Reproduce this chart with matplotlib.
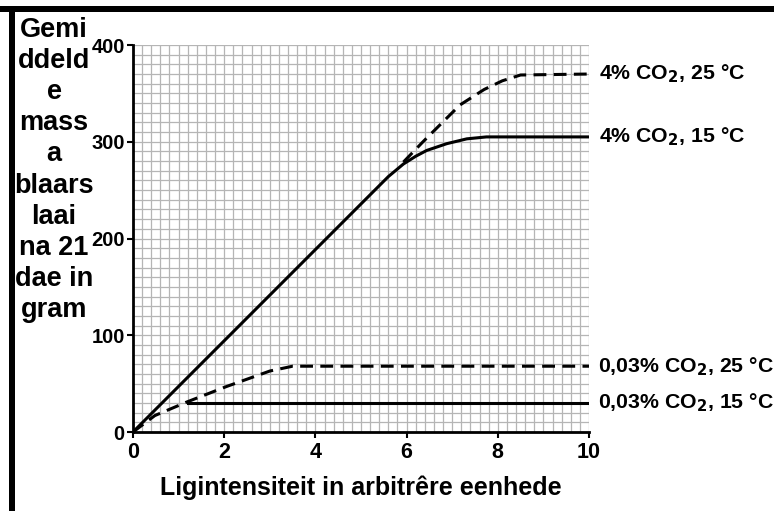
"""Leaf mass vs light intensity at two CO2 levels and two temperatures."""
import matplotlib
matplotlib.use("Agg")
import matplotlib.pyplot as plt
from matplotlib.patches import Rectangle
from matplotlib.ticker import MultipleLocator

plt.rcParams["font.family"] = ["Liberation Sans", "DejaVu Sans"]
plt.rcParams["font.weight"] = "bold"

# 4% CO2, 15 C (solid)
x_hi15 = [0, 5.6, 5.93, 6.2, 6.44, 6.88, 7.32, 7.75, 10]
y_hi15 = [0, 264, 277, 285, 291, 298, 303, 305, 305]
# 4% CO2, 25 C (dashed continuation of the straight part)
x_hi25 = [5.93, 6.36, 7.17, 7.7, 8.1, 8.5, 10]
y_hi25 = [279, 300, 338, 354, 363, 369, 370]
# 0,03% CO2, 25 C (dashed)
x_lo25 = [0, 0.48, 1.18, 2.05, 3.0, 3.5, 10]
y_lo25 = [0, 17, 31, 47, 63, 68, 68]
# 0,03% CO2, 15 C
x_lo15 = [0, 1.2, 10]
y_lo15 = [0, 30, 30]

labels = ["4% CO$_2$, 25 °C", "4% CO$_2$, 15 °C",
          "0,03% CO$_2$, 25 °C", "0,03% CO$_2$, 15 °C"]

W, H = 774, 511
fig = plt.figure(figsize=(W / 100, H / 100), dpi=100)
ax = fig.add_axes([133 / W, 1 - 432 / H, (589 - 133) / W, (432 - 45) / H])

dash = (0, (4.2, 2.4))
lw = 2.2
ax.plot(x_hi15, y_hi15, color="black", lw=lw)
ax.plot(x_hi25, y_hi25, color="black", lw=lw, linestyle=dash)
ax.plot(x_lo25, y_lo25, color="black", lw=lw, linestyle=dash)
ax.plot(x_lo15[1:], y_lo15[1:], color="black", lw=lw)

ax.set_xlim(0, 10)
ax.set_ylim(0, 400)
ax.xaxis.set_major_locator(MultipleLocator(2))
ax.xaxis.set_minor_locator(MultipleLocator(0.2))
ax.yaxis.set_major_locator(MultipleLocator(100))
ax.yaxis.set_minor_locator(MultipleLocator(10))
ax.grid(which="both", color="#b5b5b5", lw=0.9)
ax.set_axisbelow(True)
ax.tick_params(which="minor", length=0)
ax.tick_params(which="major", length=4, width=1.5, pad=3)
ax.tick_params(axis="x", labelsize=15.5)
ax.tick_params(axis="y", labelsize=14.5, pad=2)
for lab in ax.get_xticklabels() + ax.get_yticklabels():
    lab.set_fontweight("bold")
ax.spines["top"].set_visible(False)
ax.spines["right"].set_visible(False)
ax.spines["left"].set_linewidth(2)
ax.spines["bottom"].set_linewidth(2)

ax.set_xlabel("Ligintensiteit in arbitrêre eenhede", fontsize=18,
              fontweight="bold", labelpad=9)

# curve labels on the right
label_y = [370, 305, 68, 30]
label_x = [10.22, 10.22, 10.2, 10.2]
for lx, ly, txt in zip(label_x, label_y, labels):
    ax.text(lx, ly, txt, fontsize=15.3, fontweight="bold",
            va="center", ha="left", clip_on=False)

fig.text(54 / W, 1 - 170 / H,
         "Gemi\nddeld\ne\nmass\na\nblaars\nlaai\nna 21\ndae in\ngram",
         ha="center", va="center", fontsize=19.5, fontweight="bold",
         linespacing=1.26)

# frame bars
fig.add_artist(Rectangle((0, 1 - 12 / H), 1, 6 / H, transform=fig.transFigure,
                         color="black", lw=0))
fig.add_artist(Rectangle((9 / W, 0), 6 / W, 1 - 6 / H, transform=fig.transFigure,
                         color="black", lw=0))

fig.savefig("out.png", dpi=100)
